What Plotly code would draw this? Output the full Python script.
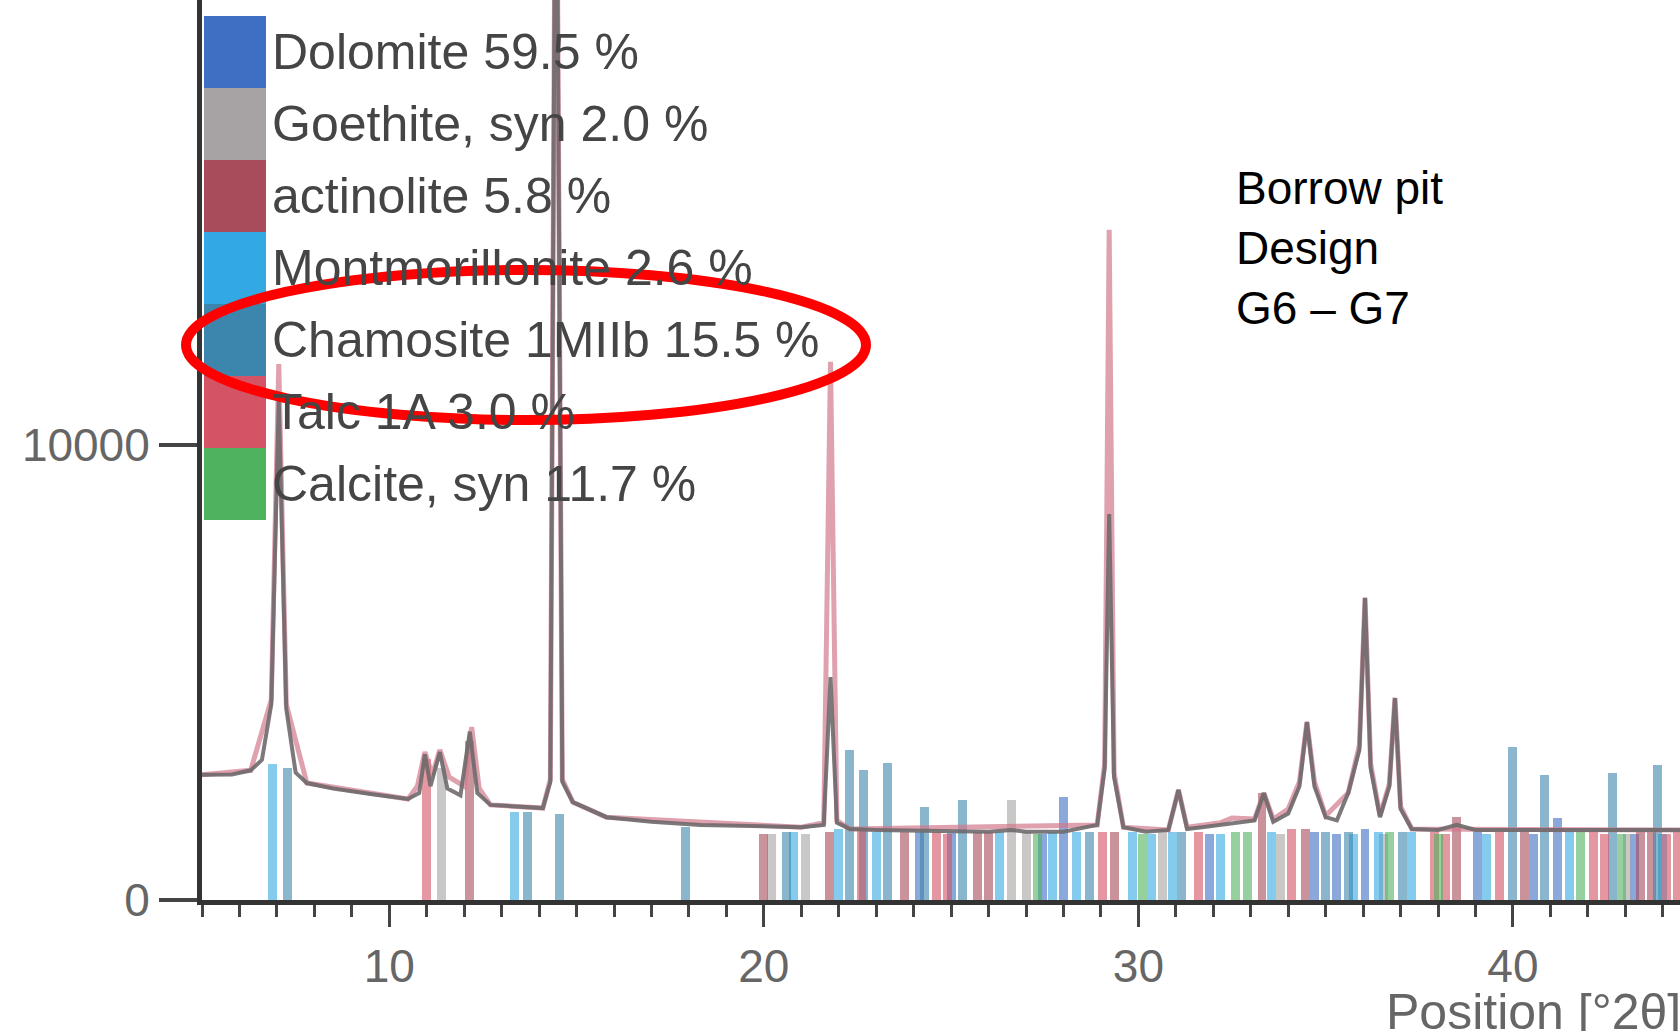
import plotly.graph_objects as go

# ---------------- data ----------------
# observed diffractogram (vertices read from the picture)
obs_x = [5.0, 5.8, 6.3, 6.6, 6.85, 7.05, 7.25, 7.5, 7.8, 8.5, 9.5, 10.5, 10.8, 10.95, 11.1,
         11.35, 11.55, 11.9, 12.15, 12.35, 12.7, 13.5, 14.1, 14.3, 14.45, 14.62, 14.9, 15.8,
         17.0, 18.3, 20.0, 21.0, 21.6, 21.78, 21.95, 22.3, 23.0, 24.0, 25.0, 26.0, 26.6, 27.0,
         28.0, 28.9, 29.1, 29.22, 29.35, 29.6, 30.2, 30.8, 31.07, 31.3, 31.7, 32.2, 32.7, 33.1,
         33.35, 33.6, 34.0, 34.3, 34.5, 34.7, 35.0, 35.3, 35.6, 35.9, 36.05, 36.2, 36.45, 36.7,
         36.85, 37.0, 37.3, 38.0, 38.5, 39.0, 40.0, 41.0, 42.0, 43.0, 44.5]
obs_y = [2750, 2760, 2850, 3080, 4300, 11000, 4200, 2800, 2570, 2450, 2330, 2220, 2350, 3200, 2500,
         3250, 2450, 2300, 3700, 2350, 2090, 2040, 2020, 2600, 26000, 2600, 2150, 1820,
         1720, 1650, 1620, 1600, 1650, 4900, 1700, 1560, 1540, 1520, 1510, 1500, 1540, 1500,
         1500, 1650, 2900, 8480, 2700, 1600, 1500, 1540, 2420, 1560, 1600, 1650, 1700, 1750,
         2350, 1720, 1900, 2500, 3910, 2500, 1820, 1750, 2350, 3300, 6640, 2900, 1820, 2500,
         4440, 2000, 1560, 1540, 1650, 1540, 1540, 1540, 1540, 1540, 1540]

# calculated profile (pink)
calc_x = [5.0, 6.3, 6.85, 7.05, 7.25, 7.8, 10.5, 10.75, 10.95, 11.15, 11.35, 11.6, 12.0, 12.2,
          12.4, 12.7, 14.1, 14.3, 14.45, 14.62, 14.9, 15.8, 21.0, 21.6, 21.78, 21.95, 22.3,
          28.9, 29.1, 29.22, 29.35, 29.6, 30.8, 31.07, 31.3, 32.2, 32.5, 33.1, 33.35, 33.6,
          34.0, 34.3, 34.5, 34.7, 35.0, 35.6, 35.9, 36.05, 36.2, 36.45, 36.7, 36.85, 37.0,
          37.3, 44.5]
calc_y = [2750, 2850, 4400, 11780, 4300, 2570, 2220, 2500, 3250, 2750, 3300, 2700, 2500, 3800,
          2450, 2090, 2020, 2650, 26000, 2650, 2150, 1820, 1600, 1700, 11830, 1750, 1560,
          1650, 3000, 14730, 2800, 1600, 1540, 2420, 1600, 1700, 1800, 1780, 2350, 1780,
          2000, 2600, 3910, 2600, 1850, 2350, 3400, 6640, 3000, 1850, 2550, 4440, 2050,
          1560, 1540]

phases = ["Dolomite 59.5 %", "Goethite, syn 2.0 %", "actinolite 5.8 %", "Montmorillonite 2.6 %",
          "Chamosite 1MIIb 15.5 %", "Talc 1A 3.0 %", "Calcite, syn 11.7 %"]
phase_colors = ["#3f6fc3", "#a7a2a3", "#a84c5c", "#33a9e3", "#3c86ad", "#d45364", "#4fb25e"]

# reference stick patterns (position °2θ, height)
dol_pos = [24.15, 25.0, 27.45, 28.0, 31.9, 34.7, 35.3, 36.05, 39.05, 40.55, 41.2, 43.25]
dol_h = [1500, 1480, 1450, 2260, 1450, 1500, 1450, 1550, 1500, 1450, 1800, 1450]
goe_pos = [11.4, 20.2, 21.1, 26.6, 27.0, 30.65, 33.8, 36.55, 43.05]
goe_h = [2900, 1450, 1450, 2200, 1500, 1500, 1450, 1450, 1450]
act_pos = [12.15, 20.0, 21.75, 23.75, 25.7, 26.0, 29.37, 33.3, 34.45, 38.5, 40.3, 43.4, 43.7]
act_h = [3500, 1450, 1500, 1500, 1500, 1500, 1500, 2350, 1550, 1820, 1500, 1500, 1500]
mon_pos = [6.87, 13.34, 20.8, 22.0, 23.0, 26.3, 27.7, 28.35, 29.85, 30.35, 30.9, 32.2, 33.55,
           35.75, 36.4, 37.3, 39.3, 41.5, 44.0]
mon_h = [3000, 1930, 1500, 1550, 1500, 1500, 1500, 1500, 1500, 1450, 1500, 1450, 1500,
         1450, 1500, 1500, 1450, 1500, 1450]
cha_pos = [7.27, 13.7, 14.54, 17.9, 20.6, 22.3, 22.66, 23.3, 24.3, 25.3, 28.7, 31.15, 35.0,
           35.6, 37.05, 40.0, 40.85, 42.67, 43.85]
cha_h = [2900, 1930, 1900, 1600, 1500, 3300, 2860, 3010, 2040, 2200, 1500, 1500, 1500,
         1500, 1500, 3360, 2750, 2790, 2970]
tal_pos = [11.0, 22.6, 24.6, 24.9, 29.05, 31.6, 34.1, 37.9, 38.2, 39.65, 42.15, 42.45, 44.1, 44.4]
tal_h = [3100, 1550, 1500, 1450, 1500, 1500, 1550, 1500, 1450, 1500, 1500, 1450, 1450, 1500]
cal_pos = [27.3, 30.1, 32.6, 32.9, 36.7, 38.0, 41.8, 42.9]
cal_h = [1450, 1450, 1500, 1500, 1500, 1450, 1500, 1450]

stick_sets = [(dol_pos, dol_h), (goe_pos, goe_h), (act_pos, act_h), (mon_pos, mon_h),
              (cha_pos, cha_h), (tal_pos, tal_h), (cal_pos, cal_h)]

x_range = [5.0, 44.46]
y_range = [0, 19780]
y_ticks = [0, 10000]
y_ticktext = ["0", "10000"]
x_ticks = [10, 20, 30, 40]
x_ticktext = ["10", "20", "30", "40"]

annotation_text = "Borrow pit<br>Design<br>G6 – G7"
x_title = "Position [°2θ]"

# ---------------- layout geometry (pixels) ----------------
W, H = 1680, 1031
ML, MR, MT, MB = 202, 0, 0, 131
PW, PH = W - ML - MR, H - MT - MB


def px(xp):
    return (xp - ML) / PW


def py(yp):
    return 1 - (yp - MT) / PH


SANS = "Liberation Sans, Arial, sans-serif"

fig = go.Figure()

for (pos, h), col in zip(stick_sets, phase_colors):
    fig.add_trace(go.Bar(x=pos, y=h, width=0.24, marker=dict(color=col, line=dict(width=0)),
                         opacity=0.6, showlegend=False, hoverinfo="skip"))

fig.add_trace(go.Scatter(x=calc_x, y=calc_y, mode="lines",
                         line=dict(color="#d27a8c", width=5), opacity=0.7,
                         showlegend=False, hoverinfo="skip"))
fig.add_trace(go.Scatter(x=obs_x, y=obs_y, mode="lines",
                         line=dict(color="#6f6a6c", width=4), opacity=0.9,
                         showlegend=False, hoverinfo="skip"))

shapes = []
annotations = []
box_h = 72
box_top = 16
for i, (name, col) in enumerate(zip(phases, phase_colors)):
    t = box_top + i * box_h
    shapes.append(dict(type="rect", xref="paper", yref="paper",
                       x0=px(204), x1=px(266), y0=py(t + box_h), y1=py(t),
                       fillcolor=col, line=dict(width=0), layer="above"))
    annotations.append(dict(text=name, xref="paper", yref="paper", x=px(270), y=py(t + box_h / 2),
                            xanchor="left", yanchor="middle", showarrow=False,
                            font=dict(family=SANS, size=50, color="#454545")))

# red highlight ellipse
shapes.append(dict(type="circle", xref="paper", yref="paper",
                   x0=px(186), x1=px(866), y0=py(420), y1=py(270),
                   line=dict(color="#ff0000", width=10), layer="above"))

annotations.append(dict(text=annotation_text, xref="paper", yref="paper", x=px(1234), y=py(248),
                        xanchor="left", yanchor="middle", align="left", showarrow=False,
                        font=dict(family=SANS, size=46, color="#000000")))
annotations.append(dict(text=x_title, xref="paper", yref="paper", x=px(1384), y=py(1012),
                        xanchor="left", yanchor="middle", showarrow=False,
                        font=dict(family=SANS, size=50, color="#666666")))

fig.update_layout(
    width=W, height=H,
    margin=dict(l=ML, r=MR, t=MT, b=MB, pad=0),
    paper_bgcolor="white", plot_bgcolor="white",
    barmode="overlay", bargap=0,
    shapes=shapes, annotations=annotations,
    xaxis=dict(range=x_range, tickvals=x_ticks, ticktext=x_ticktext, ticks="outside",
               ticklen=22, tickwidth=3,
               tickcolor="#444444", showline=True, linecolor="#333333", linewidth=5,
               showgrid=False, zeroline=False,
               tickfont=dict(family=SANS, size=46, color="#666666"),
               minor=dict(dtick=1, tick0=0, ticks="outside", ticklen=12, tickwidth=3,
                          tickcolor="#444444", showgrid=False)),
    yaxis=dict(range=y_range, tickvals=y_ticks, ticktext=y_ticktext, ticks="outside",
               ticklen=38, tickwidth=4,
               tickcolor="#444444", showline=True, linecolor="#333333", linewidth=5,
               showgrid=False, zeroline=False, ticklabelstandoff=0,
               tickfont=dict(family=SANS, size=46, color="#666666")),
)

fig.write_html("out.html")
